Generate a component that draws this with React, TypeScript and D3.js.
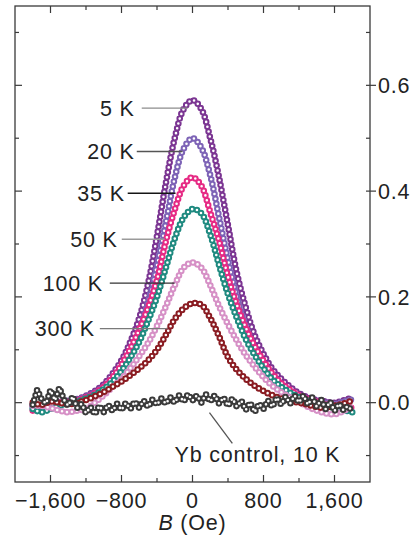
import React, { useEffect, useRef } from "react";
import * as d3 from "d3";

// field values (Oe) for the temperature sweeps
const fieldB = [
  -1800, -1700, -1600, -1500, -1400, -1300, -1200, -1100, -1000, -900, -800, -700, -600, -500, -400, -300, -200, -100,
  0, 100, 200, 300, 400, 500, 600, 700, 800, 900, 1000, 1100, 1200, 1300, 1400, 1500, 1600, 1700, 1800,
];

const k5 = [
  -0.005, -0.006, -0.003, 0, 0.003, 0.007, 0.013, 0.022, 0.035, 0.055, 0.08, 0.115, 0.16, 0.225, 0.315, 0.415, 0.5, 0.555,
  0.572, 0.555, 0.5, 0.425, 0.335, 0.245, 0.18, 0.128, 0.092, 0.064, 0.045, 0.03, 0.018, 0.01, 0.005, 0.002, 0.0, 0.004, 0.01,
];
const k20 = [
  -0.008, -0.004, 0, 0.002, 0.004, 0.006, 0.011, 0.019, 0.03, 0.046, 0.068, 0.098, 0.138, 0.19, 0.26, 0.34, 0.425, 0.48,
  0.5, 0.482, 0.43, 0.35, 0.27, 0.2, 0.145, 0.104, 0.073, 0.05, 0.033, 0.021, 0.012, 0.006, 0.002, 0, -0.003, 0.002, 0.006,
];
const k35 = [
  -0.015, -0.01, -0.004, 0, 0.002, 0.005, 0.01, 0.018, 0.03, 0.048, 0.072, 0.102, 0.138, 0.18, 0.232, 0.305, 0.365, 0.41,
  0.426, 0.41, 0.36, 0.305, 0.238, 0.185, 0.142, 0.107, 0.079, 0.055, 0.037, 0.024, 0.014, 0.007, 0.002, -0.003, -0.006, -0.008, -0.01,
];
const k50 = [
  -0.012, -0.018, -0.012, -0.006, -0.002, 0.002, 0.008, 0.015, 0.026, 0.04, 0.06, 0.085, 0.115, 0.155, 0.2, 0.255, 0.31, 0.35,
  0.366, 0.358, 0.318, 0.26, 0.205, 0.16, 0.12, 0.09, 0.065, 0.044, 0.03, 0.019, 0.011, 0.004, -0.002, -0.006, -0.01, -0.014, -0.018,
];
const k100 = [
  -0.006, -0.006, -0.01, -0.015, -0.018, -0.015, -0.012, 0.0, 0.014, 0.03, 0.045, 0.065, 0.088, 0.113, 0.145, 0.182, 0.222, 0.255,
  0.265, 0.255, 0.222, 0.182, 0.148, 0.117, 0.09, 0.068, 0.048, 0.032, 0.02, 0.01, 0.002, -0.008, -0.015, -0.02, -0.022, -0.016, -0.006,
];
const k300 = [
  0.0, -0.004, 0.002, 0.0, -0.003, 0.0, 0.005, 0.012, 0.02, 0.03, 0.04, 0.052, 0.065, 0.08, 0.1, 0.128, 0.158, 0.178,
  0.188, 0.185, 0.16, 0.125, 0.086, 0.062, 0.045, 0.032, 0.022, 0.014, 0.008, 0.003, 0.0, -0.004, -0.008, -0.01, -0.006, -0.002, 0.004,
];

// Yb control, finer field steps
const ybField = [
  -1800, -1750, -1700, -1650, -1600, -1550, -1500, -1450, -1400, -1350, -1300, -1250, -1200, -1150, -1100, -1050, -1000, -950,
  -900, -850, -800, -750, -700, -650, -600, -550, -500, -450, -400, -350, -300, -250, -200, -150, -100, -50,
  0, 50, 100, 150, 200, 250, 300, 350, 400, 450, 500, 550, 600, 650, 700, 750, 800, 850,
  900, 950, 1000, 1050, 1100, 1150, 1200, 1250, 1300, 1350, 1400, 1450, 1500, 1550, 1600, 1650, 1700, 1750, 1800,
];
const ybControl = [
  -0.004, 0.024, 0.006, -0.002, 0.024, 0.004, 0.028, 0.006, -0.006, 0.012, -0.01, -0.002, -0.02, -0.008, -0.022, -0.006, -0.018, -0.004,
  -0.016, -0.002, -0.014, 0.0, -0.012, 0.002, -0.01, 0.004, -0.008, 0.006, -0.004, 0.008, -0.002, 0.01, 0.0, 0.014, 0.002, 0.016,
  0.004, 0.014, 0.0, 0.016, 0.002, 0.014, -0.002, 0.01, -0.006, 0.008, -0.008, 0.004, -0.014, 0.0, -0.018, -0.002, -0.012, 0.004,
  -0.008, 0.01, -0.004, 0.012, -0.002, 0.014, 0.0, 0.014, -0.004, 0.01, -0.008, 0.006, -0.012, 0.002, -0.016, -0.002, -0.014, -0.006, -0.016,
];

const series = [
  { name: "5 K", x: fieldB, y: k5, color: "#7b3592", curve: d3.curveCatmullRom.alpha(0.5) },
  { name: "20 K", x: fieldB, y: k20, color: "#7d63b6", curve: d3.curveCatmullRom.alpha(0.5) },
  { name: "35 K", x: fieldB, y: k35, color: "#e62a84", curve: d3.curveCatmullRom.alpha(0.5) },
  { name: "50 K", x: fieldB, y: k50, color: "#1f8a80", curve: d3.curveCatmullRom.alpha(0.5) },
  { name: "100 K", x: fieldB, y: k100, color: "#d690c6", curve: d3.curveCatmullRom.alpha(0.5) },
  { name: "300 K", x: fieldB, y: k300, color: "#8a1c22", curve: d3.curveCatmullRom.alpha(0.5) },
  { name: "Yb", x: ybField, y: ybControl, color: "#3a3a3a", curve: d3.curveLinear },
];

// annotations: text end / leader line in data units
const callouts = [
  { label: "5 K", textB: -651, fromB: -572, toB: -56, v: 0.557, color: "#8c8c8c" },
  { label: "20 K", textB: -651, fromB: -628, toB: -112, v: 0.475, color: "#555" },
  { label: "35 K", textB: -763, fromB: -730, toB: -191, v: 0.396, color: "#151515" },
  { label: "50 K", textB: -842, fromB: -797, toB: -314, v: 0.309, color: "#9a9a9a" },
  { label: "100 K", textB: -1010, fromB: -932, toB: -202, v: 0.226, color: "#333" },
  { label: "300 K", textB: -1100, fromB: -1044, toB: -281, v: 0.14, color: "#7a7a7a" },
];

const xMajor = [-1600, -800, 0, 800, 1600];
const xMinor = [-1200, -400, 400, 1200];
const yMajor = [0, 0.2, 0.4, 0.6];
const yMinor = [-0.1, 0.1, 0.3, 0.5, 0.7];

const W = 416;
const H = 538;
const margin = { top: 6, right: 46, bottom: 56, left: 15 };
const FONT = "'Liberation Sans', Arial, sans-serif";

export default function App() {
  const svgRef = useRef<SVGSVGElement | null>(null);

  useEffect(() => {
    if (!svgRef.current) return;
    const svg = d3.select(svgRef.current);
    svg.selectAll("*").remove();

    const x0 = margin.left;
    const x1 = W - margin.right;
    const y0 = margin.top;
    const y1 = H - margin.bottom;

    const x = d3.scaleLinear().domain([-2000, 2000]).range([x0, x1]);
    const y = d3.scaleLinear().domain([-0.15, 0.75]).range([y1, y0]);

    const axisColor = "#3a3a3a";
    const textColor = "#222";

    // frame
    svg.append("rect")
      .attr("x", x0).attr("y", y0)
      .attr("width", x1 - x0).attr("height", y1 - y0)
      .attr("fill", "none").attr("stroke", axisColor).attr("stroke-width", 1.3);

    const ticks = svg.append("g").attr("stroke", axisColor).attr("stroke-width", 1.2);
    // top + bottom ticks (inward)
    xMajor.forEach((v) => {
      ticks.append("line").attr("x1", x(v)).attr("x2", x(v)).attr("y1", y0).attr("y2", y0 + 7);
      ticks.append("line").attr("x1", x(v)).attr("x2", x(v)).attr("y1", y1).attr("y2", y1 - 7);
    });
    xMinor.forEach((v) => {
      ticks.append("line").attr("x1", x(v)).attr("x2", x(v)).attr("y1", y0).attr("y2", y0 + 4);
      ticks.append("line").attr("x1", x(v)).attr("x2", x(v)).attr("y1", y1).attr("y2", y1 - 4);
    });
    // left inward, right outward for majors
    yMajor.forEach((v) => {
      ticks.append("line").attr("x1", x0).attr("x2", x0 + 7).attr("y1", y(v)).attr("y2", y(v));
      ticks.append("line").attr("x1", x1 - 4).attr("x2", x1 + 6).attr("y1", y(v)).attr("y2", y(v));
    });
    yMinor.forEach((v) => {
      ticks.append("line").attr("x1", x0).attr("x2", x0 + 4).attr("y1", y(v)).attr("y2", y(v));
      ticks.append("line").attr("x1", x1 - 4).attr("x2", x1).attr("y1", y(v)).attr("y2", y(v));
    });

    const labelStyle = (sel: any) =>
      sel.attr("font-family", FONT).attr("font-size", 21.5).attr("letter-spacing", 0.8).attr("fill", textColor);

    // x tick labels
    const fmt = (v: number) => (v < 0 ? "\u2212" : "") + d3.format(",")(Math.abs(v));
    xMajor.forEach((v) => {
      svg.append("text")
        .attr("x", x(v)).attr("y", y1 + 26)
        .attr("text-anchor", "middle")
        .call(labelStyle)
        .text(fmt(v));
    });

    // y tick labels on the right
    yMajor.forEach((v) => {
      svg.append("text")
        .attr("x", x1 + 8).attr("y", y(v))
        .attr("dy", "0.36em")
        .call(labelStyle)
        .text(d3.format(".1f")(v));
    });

    // axis title
    const title = svg.append("text")
      .attr("x", x(0)).attr("y", y1 + 48)
      .attr("text-anchor", "middle")
      .call(labelStyle);
    title.append("tspan").attr("font-style", "italic").text("B");
    title.append("tspan").text(" (Oe)");

    // series drawn as chains of open circles
    series.forEach((s) => {
      const line = d3.line<[number, number]>()
        .x((d) => x(d[0]))
        .y((d) => y(d[1]))
        .curve(s.curve);
      const pts: [number, number][] = s.x.map((b, i) => [b, s.y[i]]);
      const d = line(pts);
      svg.append("path")
        .attr("d", d)
        .attr("fill", "none")
        .attr("stroke", s.color)
        .attr("stroke-width", 6.6)
        .attr("stroke-linecap", "round")
        .attr("stroke-dasharray", "0 5");
      svg.append("path")
        .attr("d", d)
        .attr("fill", "none")
        .attr("stroke", "#fff")
        .attr("stroke-width", 2.6)
        .attr("stroke-linecap", "round")
        .attr("stroke-dasharray", "0 5");
    });

    // temperature call-outs
    callouts.forEach((c) => {
      svg.append("line")
        .attr("x1", x(c.fromB)).attr("x2", x(c.toB))
        .attr("y1", y(c.v)).attr("y2", y(c.v))
        .attr("stroke", c.color).attr("stroke-width", 1.4);
      svg.append("text")
        .attr("x", x(c.textB)).attr("y", y(c.v))
        .attr("dy", "0.36em")
        .attr("text-anchor", "end")
        .call(labelStyle)
        .text(c.label);
    });

    // Yb control label
    svg.append("line")
      .attr("x1", x(191)).attr("y1", y(-0.019))
      .attr("x2", x(449)).attr("y2", y(-0.077))
      .attr("stroke", "#555").attr("stroke-width", 1.3);
    svg.append("text")
      .attr("x", x(-202)).attr("y", y(-0.098))
      .attr("dy", "0.36em")
      .call(labelStyle)
      .text("Yb control, 10 K");
  }, []);

  return (
    <div style={{ width: W, height: H }}>
      <style>{`body{margin:0;background:#fff}`}</style>
      <svg ref={svgRef} width={W} height={H} style={{ display: "block" }} />
    </div>
  );
}
